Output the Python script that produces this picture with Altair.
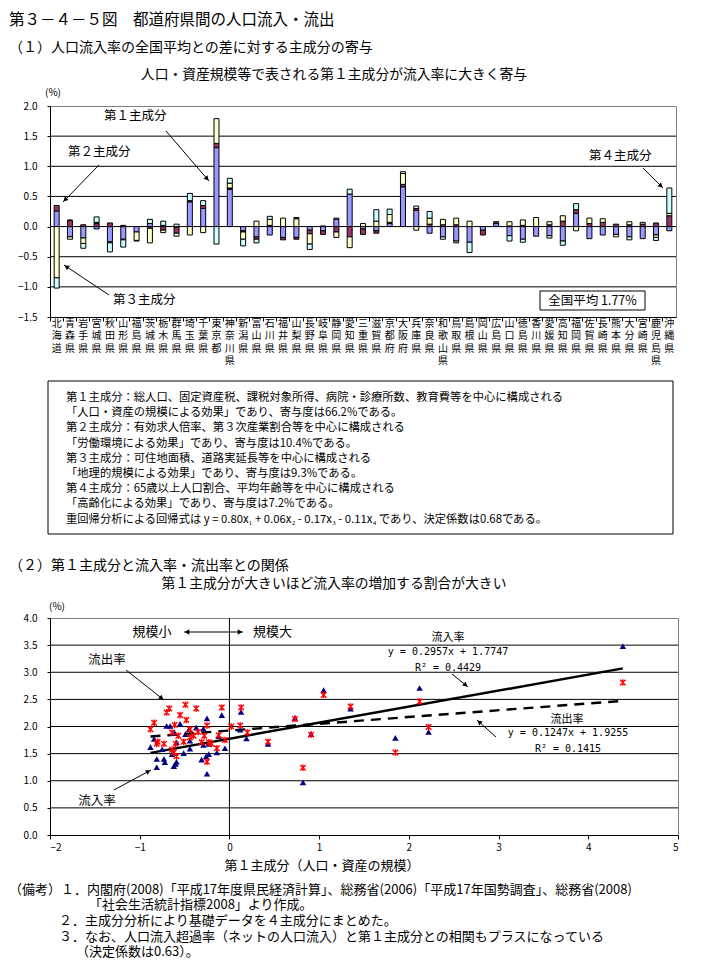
import math
import altair as alt
import pandas as pd

FONT = "Noto Sans CJK JP"
MONO = "DejaVu Sans Mono"

# ---------------- data: (1) contributions of principal components ----------------
prefectures = [
    "北海道", "青森県", "岩手県", "宮城県", "秋田県", "山形県", "福島県", "茨城県", "栃木県", "群馬県",
    "埼玉県", "千葉県", "東京都", "神奈川県", "新潟県", "富山県", "石川県", "福井県", "山梨県", "長野県",
    "岐阜県", "静岡県", "愛知県", "三重県", "滋賀県", "京都府", "大阪府", "兵庫県", "奈良県", "和歌山県",
    "鳥取県", "島根県", "岡山県", "広島県", "山口県", "徳島県", "香川県", "愛媛県", "高知県", "福岡県",
    "佐賀県", "長崎県", "熊本県", "大分県", "宮崎県", "鹿児島県", "沖縄県",
]
pc1 = [0.26, -0.17, -0.19, -0.04, -0.25, -0.21, -0.09, 0.05, 0.02, -0.01,
       0.41, 0.30, 1.31, 0.62, -0.07, -0.17, -0.14, -0.18, -0.18, -0.06,
       -0.07, 0.12, 0.54, -0.04, -0.07, 0.05, 0.66, 0.27, -0.11, -0.17,
       -0.24, -0.26, -0.06, 0.05, -0.15, -0.21, -0.16, -0.15, -0.24, 0.22,
       -0.20, -0.14, -0.13, -0.17, -0.20, -0.14, -0.07]
pc2 = [0.09, 0.10, 0.03, 0.05, 0.06, 0.02, 0.00, -0.03, -0.06, -0.10,
       0.02, 0.05, 0.07, 0.02, -0.02, -0.04, 0.02, -0.04, -0.03, -0.06,
       -0.06, -0.09, -0.17, -0.09, -0.04, 0.02, 0.04, 0.03, 0.04, 0.03,
       0.03, 0.00, -0.08, 0.03, 0.01, 0.02, 0.00, 0.03, 0.09, 0.06,
       0.05, 0.07, 0.04, 0.03, 0.04, 0.06, 0.18]
pc3 = [-0.85, -0.04, -0.09, 0.02, -0.02, -0.01, -0.14, -0.24, -0.04, -0.05,
       -0.14, -0.10, 0.41, 0.08, -0.12, 0.09, 0.10, 0.14, 0.13, -0.17,
       0.01, -0.09, -0.18, 0.05, 0.09, 0.13, 0.18, -0.06, 0.10, 0.09,
       0.11, 0.09, 0.00, 0.00, 0.07, 0.09, 0.15, 0.05, 0.09, -0.07,
       0.09, 0.06, -0.04, 0.05, 0.03, -0.04, 0.04]
pc4 = [-0.17, 0.01, -0.08, 0.09, -0.15, -0.12, -0.01, 0.07, 0.07, 0.04,
       0.12, 0.08, -0.29, 0.08, -0.11, -0.06, 0.05, 0.00, 0.02, -0.09,
       0.00, 0.02, 0.08, 0.00, 0.19, 0.09, 0.03, 0.04, 0.11, -0.04,
       -0.03, -0.17, 0.00, 0.00, -0.09, -0.05, 0.00, -0.04, -0.07, 0.10,
       0.00, 0.00, 0.00, -0.05, 0.00, -0.05, 0.42]
comp_names = ["第１主成分", "第２主成分", "第３主成分", "第４主成分"]
comp_colors = ["#9999FF", "#993366", "#FFFFCC", "#CCFFFF"]
bar_ticks = [-1.5, -1.0, -0.5, 0.0, 0.5, 1.0, 1.5, 2.0]
bar_grid = [-1.0, -0.5, 0.0, 0.5, 1.0, 1.5]

# ---------------- data: (2) scatter ----------------
in_x = [4.385, 1.05, 2.12, 1.35, 0.73, 0.91, 1.85, 2.22, 0.82,
        0.13, -0.085, -0.25, -0.55, -0.70, -0.66, -0.37, -0.29, 0.12, -0.49,
        -0.61, -0.12, 0.19, -0.84, -0.44, -0.59, -0.23, -0.29, 0.43, -0.88,
        -0.44, -0.14, -0.51, -0.64, -0.23, -0.26, -0.81, -0.73, -0.31, -0.59,
        -0.72, -0.81, -0.62, -0.60, -0.25, -0.45, -0.05, -0.75]
in_y = [3.48, 2.67, 2.71, 2.33, 2.16, 1.86, 1.79, 1.90, 0.97,
        2.27, 2.21, 2.15, 2.05, 2.01, 2.01, 1.98, 1.96, 1.94, 1.86,
        1.88, 1.82, 1.78, 1.77, 1.74, 1.71, 1.68, 1.66, 1.68, 1.62,
        1.59, 1.52, 1.51, 1.49, 1.49, 1.45, 1.40, 1.40, 1.39, 1.35,
        1.34, 1.25, 1.27, 1.31, 1.13, 1.95, 1.60, 1.58]
out_x = [4.385, 1.05, 2.12, 1.35, 0.73, 0.91, 1.85, 2.22, 0.82,
         0.13, -0.085, -0.49, -0.37, -0.67, -0.70, -0.55, -0.48, -0.84, -0.61,
         -0.25, 0.12, -0.88, -0.44, -0.64, -0.57, -0.12, -0.28, 0.20, -0.44,
         -0.51, -0.80, -0.81, -0.73, -0.60, -0.31, -0.23, -0.20, 0.43, -0.62,
         -0.59, -0.14, -0.25, -0.64, -0.40, -0.35, -0.05, 0.02]
out_y = [2.81, 2.58, 2.46, 2.37, 2.14, 1.85, 1.52, 1.99, 1.24,
         2.35, 2.35, 2.40, 2.33, 2.33, 2.26, 2.21, 2.12, 2.07, 2.03,
         2.02, 2.02, 1.95, 1.95, 1.89, 1.83, 1.84, 1.83, 1.89, 1.80,
         1.72, 1.72, 1.68, 1.68, 1.68, 1.71, 1.71, 1.68, 1.72, 1.52,
         1.45, 1.60, 1.35, 1.57, 1.83, 1.90, 1.75, 2.00]
reg_names = ["流入率", "流出率"]
reg_slope = [0.2957, 0.1247]
reg_intercept = [1.7747, 1.9255]
reg_range = [-0.88, 4.385]
sc_yticks = [0.0, 0.5, 1.0, 1.5, 2.0, 2.5, 3.0, 3.5, 4.0]
sc_grid = [0.5, 1.0, 1.5, 2.0, 2.5, 3.0, 3.5]
sc_xticks = [-2, -1, 0, 1, 2, 3, 4, 5]

# ---------------- helpers ----------------
one = alt.Data(values=[{"a": 1}])


def text_at(txt, x, y, size=12.5, align="left", font=FONT):
    return alt.Chart(one).mark_text(
        text=txt, align=align, baseline="middle", fontSize=size, font=font, color="black"
    ).encode(x=alt.value(x), y=alt.value(y))


def arrow(x1, y1, x2, y2, heads=("end",)):
    layers = [alt.Chart(one).mark_rule(color="black", strokeWidth=1).encode(
        x=alt.value(x1), y=alt.value(y1), x2=alt.value(x2), y2=alt.value(y2))]
    for h in heads:
        if h == "end":
            sx, sy, ex, ey = x1, y1, x2, y2
        else:
            sx, sy, ex, ey = x2, y2, x1, y1
        dx, dy = ex - sx, ey - sy
        L = math.hypot(dx, dy)
        ang = math.degrees(math.atan2(dx, -dy)) % 360
        hx, hy = ex - dx / L * 3, ey - dy / L * 3
        layers.append(alt.Chart(one).mark_point(
            shape="triangle-up", filled=True, color="black", opacity=1, size=28, angle=ang
        ).encode(x=alt.value(hx), y=alt.value(hy)))
    return layers


# ---------------- top chart ----------------
rows = []
for i, p in enumerate(prefectures):
    for k, vals in enumerate([pc1, pc2, pc3, pc4]):
        if vals[i] != 0:
            rows.append({"pref": p, "comp": comp_names[k], "ord": k, "value": vals[i]})
bars_df = pd.DataFrame(rows)
pref_df = pd.DataFrame({"pref": prefectures})

W1, H1 = 626, 211
xs1 = alt.Scale(domain=prefectures, paddingInner=0, paddingOuter=0)
xax1 = alt.Axis(title=None, labels=False, tickSize=4, bandPosition=0,
                domainColor="black", tickColor="black")
ys1 = alt.Scale(domain=[-1.5, 2.0], nice=False, zero=False)
yax1 = alt.Axis(title=None, values=bar_ticks, format=".1f", grid=False, tickSize=3,
                labelPadding=10, labelFontSize=10, domainColor="black",
                tickColor="black", labelColor="black")

grid1 = alt.Chart(pd.DataFrame({"value": bar_grid})).mark_rule(color="black", strokeWidth=1).encode(
    y=alt.Y("value:Q", scale=ys1, axis=yax1))

bars = alt.Chart(bars_df).mark_bar(size=5, stroke="black", strokeWidth=1).encode(
    x=alt.X("pref:N", sort=prefectures, scale=xs1, axis=xax1),
    y=alt.Y("value:Q", stack="zero", scale=ys1, axis=yax1),
    color=alt.Color("comp:N", scale=alt.Scale(domain=comp_names, range=comp_colors), legend=None),
    order=alt.Order("ord:Q", sort="ascending"),
)

top_layers = [grid1, bars]
# vertical prefecture names, one character per row
for r in range(4):
    top_layers.append(
        alt.Chart(pref_df).transform_calculate(ch=f"substring(datum.pref, {r}, {r + 1})")
        .transform_filter("datum.ch != ''")
        .mark_text(fontSize=10, baseline="middle", align="center", color="black")
        .encode(x=alt.X("pref:N", sort=prefectures, scale=xs1, axis=xax1),
                y=alt.value(218 + 12.3 * r), text="ch:N")
    )
top_layers += [
    text_at("第３－４－５図　都道府県間の人口流入・流出", -41, -86, size=15.5),
    text_at("（１）人口流入率の全国平均との差に対する主成分の寄与", -41, -58, size=14),
    text_at("人口・資産規模等で表される第１主成分が流入率に大きく寄与", 284, -31, size=13.8, align="center"),
    text_at("(%)", 3, -13, size=10, align="center"),
    text_at("第１主成分", 54, 10),
    text_at("第２主成分", 18, 46),
    text_at("第３主成分", 63, 194),
    text_at("第４主成分", 539, 50),
]
top_layers += arrow(116, 25, 159, 75)
top_layers += arrow(49, 59, 13, 96)
top_layers += arrow(59, 189, 14, 159)
top_layers += arrow(593, 62, 613, 82)
top_layers += [
    alt.Chart(one).mark_rect(fill="white", stroke="black", strokeWidth=1).encode(
        x=alt.value(490), x2=alt.value(595), y=alt.value(185), y2=alt.value(204)),
    text_at("全国平均 1.77%", 542.5, 194.5, size=12.5, align="center"),
]
# explanatory box
box_lines = [
    "第１主成分：総人口、固定資産税、課税対象所得、病院・診療所数、教育費等を中心に構成される",
    "「人口・資産の規模による効果」であり、寄与度は66.2%である。",
    "第２主成分：有効求人倍率、第３次産業割合等を中心に構成される",
    "「労働環境による効果」であり、寄与度は10.4%である。",
    "第３主成分：可住地面積、道路実延長等を中心に構成される",
    "「地理的規模による効果」であり、寄与度は9.3%である。",
    "第４主成分：65歳以上人口割合、平均年齢等を中心に構成される",
    "「高齢化による効果」であり、寄与度は7.2%である。",
    "重回帰分析による回帰式は y = 0.80x₁ + 0.06x₂ - 0.17x₃ - 0.11x₄ であり、決定係数は0.68である。",
]
top_layers.append(alt.Chart(one).mark_rect(fill="white", stroke="black", strokeWidth=1).encode(
    x=alt.value(-2), x2=alt.value(623), y=alt.value(275), y2=alt.value(428)))
for j, ln in enumerate(box_lines):
    top_layers.append(text_at(ln, 16, 292 + 15.2 * j, size=11.3))

top = alt.layer(*top_layers).properties(width=W1, height=H1)

# ---------------- bottom chart ----------------
W2, H2 = 628, 217
xs = alt.Scale(domain=[-2, 5], nice=False, zero=False)
ys = alt.Scale(domain=[0, 4], nice=False, zero=False)
xax2 = alt.Axis(title=None, values=sc_xticks, format="d", grid=False, tickSize=4,
                labelPadding=3, labelFontSize=10, domainColor="black",
                tickColor="black", labelColor="black")
yax2 = alt.Axis(title=None, values=sc_yticks, format=".1f", grid=False, tickSize=3,
                labelPadding=10, labelFontSize=10, domainColor="black",
                tickColor="black", labelColor="black")

grid2 = alt.Chart(pd.DataFrame({"y": sc_grid})).mark_rule(color="black", strokeWidth=1).encode(
    y=alt.Y("y:Q", scale=ys, axis=yax2))
vline = alt.Chart(pd.DataFrame({"x": [0]})).mark_rule(color="black", strokeWidth=1).encode(
    x=alt.X("x:Q", scale=xs, axis=xax2))

reg_rows = []
for n, s, b in zip(reg_names, reg_slope, reg_intercept):
    for xv in reg_range:
        reg_rows.append({"series": n, "x": xv, "y": s * xv + b})
reg_df = pd.DataFrame(reg_rows)
reg_in = alt.Chart(reg_df).transform_filter(alt.datum.series == "流入率").mark_line(
    color="black", strokeWidth=2.4).encode(
    x=alt.X("x:Q", scale=xs, axis=xax2), y=alt.Y("y:Q", scale=ys, axis=yax2))
reg_out = alt.Chart(reg_df).transform_filter(alt.datum.series == "流出率").mark_line(
    color="black", strokeWidth=2.4, strokeDash=[10, 7]).encode(
    x=alt.X("x:Q", scale=xs, axis=xax2), y=alt.Y("y:Q", scale=ys, axis=yax2))

tri = alt.Chart(pd.DataFrame({"x": in_x, "y": in_y})).mark_point(
    shape="triangle-up", filled=True, color="#000080", opacity=1, size=42).encode(
    x=alt.X("x:Q", scale=xs, axis=xax2),
    y=alt.Y("y:Q", scale=ys, axis=yax2),
)
star = alt.Chart(pd.DataFrame({"x": out_x, "y": out_y})).mark_point(
    shape="M-1,-1L1,1M-1,1L1,-1M0,-1.2L0,1.2", filled=False, color="#FF0000", opacity=1,
    size=30, strokeWidth=1.4).encode(
    x=alt.X("x:Q", scale=xs, axis=xax2), y=alt.Y("y:Q", scale=ys, axis=yax2))

bot_layers = [grid2, vline, reg_in, reg_out, tri, star]
bot_layers += [
    text_at("（２）第１主成分と流入率・流出率との関係", -41, -52, size=14),
    text_at("第１主成分が大きいほど流入率の増加する割合が大きい", 284, -34, size=13.8, align="center"),
    text_at("(%)", 7, -11, size=10, align="center"),
    text_at("規模小", 102, 14, size=13, align="center"),
    text_at("規模大", 203, 14, size=13),
    text_at("流出率", 57, 42, size=12.5, align="center"),
    text_at("流入率", 47, 183, size=12.5, align="center"),
    text_at("流入率", 398, 20, size=11, align="center"),
    text_at("y = 0.2957x + 1.7747", 398, 34, size=10, align="center", font=MONO),
    text_at("R² = 0.4429", 398, 50, size=10, align="center", font=MONO),
    text_at("流出率", 517, 102, size=11, align="center"),
    text_at("y = 0.1247x + 1.9255", 518, 115, size=10, align="center", font=MONO),
    text_at("R² = 0.1415", 518, 131, size=10, align="center", font=MONO),
    text_at("第１主成分（人口・資産の規模）", 272, 248, size=13, align="center"),
]
bot_layers += arrow(134, 14, 193, 14, heads=("start", "end"))
bot_layers += arrow(76, 52, 114, 82)
bot_layers += arrow(64, 172, 101, 152)
bot_layers += arrow(402, 56, 418, 69)
bot_layers += arrow(446, 119, 427, 102)
notes = [
    ("（備考）１．内閣府(2008)「平成17年度県民経済計算」、総務省(2006)「平成17年国勢調査」、総務省(2008)", -41, 272),
    ("「社会生活統計指標2008」より作成。", 39, 287),
    ("２．主成分分析により基礎データを４主成分にまとめた。", 9, 303),
    ("３．なお、人口流入超過率（ネットの人口流入）と第１主成分との相関もプラスになっている", 9, 319),
    ("（決定係数は0.63）。", 26, 334),
]
for t, x, y in notes:
    bot_layers.append(text_at(t, x, y, size=13))

bottom = alt.layer(*bot_layers).properties(width=W2, height=H2)

chart = alt.vconcat(top, bottom, spacing=301, bounds="flush").properties(
    padding={"left": 0, "top": 4, "right": 0, "bottom": 0}
).configure(font=FONT).configure_view(stroke="#808080", strokeWidth=1).configure_axis(
    labelFont=FONT, labelColor="black", domainColor="black", tickColor="black")

chart.save("out.html", embed_options={"renderer": "svg", "actions": False})
